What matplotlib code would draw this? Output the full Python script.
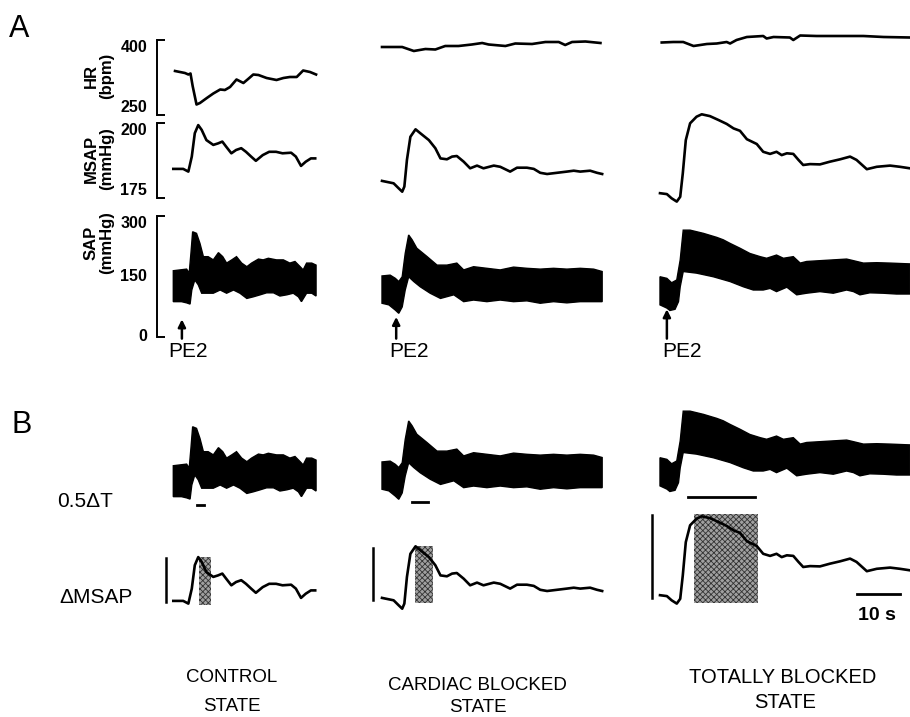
import numpy as np
import matplotlib
matplotlib.use("Agg")
import matplotlib.pyplot as plt
from matplotlib.patches import Rectangle

plt.rcParams['font.family'] = ['Liberation Sans', 'DejaVu Sans']
plt.rcParams['hatch.linewidth'] = 0.6

# ---------------- data (time in s) ----------------
# Heart rate (bpm)
HR1_t = [0.4, 2.7, 3.5, 4.0, 4.5, 5.4, 6.2, 7.8, 9.3, 10.9, 12.0, 13.2, 14.7, 16.3, 17.4, 18.6, 19.8, 21.7, 24.0, 25.6, 27.1, 28.7, 30.2, 31.8, 33.2]
HR1 = [337, 333, 330, 332, 307, 270, 273, 283, 292, 300, 299, 305, 320, 313, 321, 330, 329, 323, 319, 323, 325, 325, 338, 335, 330]
HR2_t = [0, 4.7, 7.4, 10.1, 12.4, 14.7, 17.8, 20.9, 23.3, 24.8, 28.7, 31.0, 34.9, 38.0, 41.1, 42.6, 44.2, 47.3, 50.8]
HR2 = [385, 385, 377, 381, 380, 387, 387, 390, 393, 390, 387, 392, 391, 395, 395, 389, 395, 396, 393]
HR3_t = [0.4, 3.1, 5.4, 7.8, 10.9, 13.2, 15.5, 16.3, 17.8, 20.2, 24.0, 24.8, 26.4, 30.2, 31.0, 32.6, 36.4, 41.1, 47.3, 52.0, 58.1]
HR3 = [394, 395, 395, 387, 391, 392, 395, 392, 399, 405, 407, 402, 405, 404, 399, 408, 407, 407, 407, 405, 404]

# Mean systemic arterial pressure (mmHg)
MSAP1_t = [0, 2.3, 3.5, 4.3, 5.0, 5.8, 6.6, 7.7, 9.3, 10.4, 11.4, 12.3, 13.5, 14.6, 15.8, 16.9, 18.1, 19.2, 20.8, 22.3, 23.9, 25.4, 27.4, 28.5, 29.7, 30.8, 32.0, 33.0]
MSAP1 = [184.7, 184.7, 183.8, 188.8, 196.6, 199.3, 197.7, 194.3, 192.7, 193.2, 193.8, 192.1, 189.9, 191.0, 191.6, 190.4, 188.8, 187.4, 189.3, 190.4, 190.4, 189.9, 190.1, 188.8, 185.7, 187.1, 188.2, 188.2]
MSAP2_t = [0, 2.7, 3.9, 4.7, 5.2, 5.8, 6.6, 7.8, 8.9, 10.9, 12.4, 13.6, 15.1, 16.3, 17.4, 19.0, 20.5, 22.1, 23.6, 26.0, 27.5, 29.8, 31.4, 33.7, 35.3, 36.8, 38.4, 40.7, 43.0, 44.6, 46.1, 48.4, 50.0, 51.2]
MSAP2 = [180.7, 179.9, 178.2, 177.1, 178.8, 187.7, 195.4, 197.9, 196.6, 194.3, 191.6, 188.2, 187.9, 188.8, 189.0, 187.1, 184.9, 185.8, 184.9, 185.8, 185.4, 183.8, 185.1, 185.1, 184.7, 183.4, 183.0, 183.4, 183.8, 184.1, 183.8, 184.1, 183.4, 183.0]
MSAP3_t = [0, 1.6, 2.7, 3.9, 4.7, 5.3, 6.0, 7.0, 8.5, 9.7, 11.6, 13.6, 15.5, 17.1, 18.6, 20.2, 22.5, 24.0, 25.6, 27.1, 28.3, 29.5, 31.0, 32.2, 33.3, 34.9, 37.2, 39.5, 41.9, 44.2, 45.7, 48.1, 50.4, 53.5, 55.8, 58.1]
MSAP3 = [176.6, 176.3, 174.9, 173.8, 175.4, 183.2, 194.3, 199.9, 202.1, 202.9, 202.3, 201.0, 199.7, 198.2, 197.4, 194.6, 193.0, 190.4, 189.7, 190.4, 189.3, 189.9, 189.7, 187.7, 186.0, 186.3, 186.2, 187.1, 187.9, 188.8, 187.7, 184.6, 185.4, 185.8, 185.4, 184.9]

# Systemic arterial pressure envelope (mmHg): systolic (upper) and diastolic (lower)
SAP1_up_t = [0, 3.1, 3.7, 4.1, 4.5, 5.4, 6.2, 7.0, 8.1, 9.3, 10.5, 11.5, 12.4, 13.6, 14.7, 15.9, 17.1, 18.2, 19.8, 20.9, 22.1, 24.0, 25.6, 27.1, 28.3, 29.5, 30.2, 31.0, 32.2, 33.2]
SAP1_up = [165, 169, 159, 208, 262, 258, 233, 200, 200, 192, 210, 200, 184, 192, 200, 184, 175, 184, 194, 192, 196, 192, 192, 184, 188, 175, 167, 184, 184, 179]
SAP1_lo_t = [0, 1.9, 3.1, 3.9, 4.3, 5.0, 5.8, 6.6, 7.8, 9.3, 10.9, 12.4, 14.0, 15.5, 17.1, 18.6, 20.2, 21.7, 23.3, 24.8, 26.4, 27.9, 29.1, 29.8, 31.0, 32.2, 33.2]
SAP1_lo = [88, 88, 85, 82, 117, 142, 130, 109, 109, 109, 117, 109, 117, 109, 96, 100, 105, 110, 110, 102, 105, 109, 100, 88, 109, 109, 102]
SAP2_up_t = [0, 1.9, 3.1, 3.9, 4.7, 5.4, 6.2, 7.0, 8.1, 10.5, 12.8, 15.1, 17.4, 19.0, 21.3, 24.4, 27.5, 30.6, 33.7, 36.8, 39.9, 43.0, 46.1, 49.2, 51.2]
SAP2_up = [152, 154, 146, 138, 150, 208, 254, 242, 221, 200, 179, 179, 184, 167, 175, 171, 167, 174, 171, 169, 171, 169, 171, 169, 163]
SAP2_lo_t = [0, 1.6, 3.1, 3.9, 4.7, 5.4, 6.2, 7.4, 8.9, 11.2, 13.6, 16.7, 19.0, 21.3, 24.4, 27.5, 30.6, 33.7, 36.8, 39.9, 43.0, 46.1, 49.2, 51.2]
SAP2_lo = [84, 80, 67, 59, 75, 117, 150, 138, 125, 109, 96, 105, 88, 92, 88, 92, 88, 90, 84, 88, 85, 88, 88, 88]
SAP3_up_t = [0, 1.6, 2.7, 3.9, 4.7, 5.4, 7.0, 10.1, 13.2, 14.7, 16.3, 18.6, 20.9, 23.3, 24.8, 27.1, 28.7, 31.0, 32.6, 34.1, 37.2, 40.3, 43.4, 45.0, 47.3, 50.4, 53.5, 58.1]
SAP3_up = [150, 146, 135, 142, 192, 266, 266, 258, 248, 242, 233, 221, 208, 200, 196, 204, 196, 200, 184, 188, 190, 192, 194, 190, 184, 185, 184, 182]
SAP3_lo_t = [0, 1.6, 2.3, 3.5, 4.3, 4.7, 5.4, 8.5, 12.4, 16.3, 19.4, 21.7, 24.0, 25.6, 27.1, 29.5, 31.8, 34.1, 37.2, 40.3, 43.4, 45.0, 46.5, 48.8, 51.9, 55.0, 58.1]
SAP3_lo = [80, 72, 66, 69, 88, 125, 163, 159, 150, 138, 125, 117, 117, 121, 113, 124, 105, 109, 113, 109, 117, 113, 105, 110, 109, 107, 107]

# Panel B annotations
HALF_DT = [(5.4, 7.1), (6.9, 10.8), (6.6, 22.1)]           # 0.5 delta T bars (s)
HALF_DT_LEVEL = [67, 52, 53]                                 # SAP level of the bars
SHADE_T = [(6.0, 8.7), (7.7, 11.8), (7.8, 22.9)]            # shaded windows (s)
SHADE_P = [(183.3, 199.4), (178.9, 198.1), (174.1, 203.6)]  # shaded windows (mmHg)
DMSAP_BAR = [(184.4, 199.0), (180.0, 197.2), (175.6, 203.3)]  # vertical scale bars
DMSAP_BAR_T = [-1.8, -2.2, -1.9]
PE2_T = [2.0, 3.3, 1.6]
PE2_HEAD = [44, 50, 69]
TIME_BAR = (45.8, 55.8)   # 10 s
TIME_BAR_LEVEL = 176.9

COL_LABELS = [["CONTROL", "STATE"], ["CARDIAC BLOCKED", "STATE"], ["TOTALLY BLOCKED", "STATE"]]

HR_T = [HR1_t, HR2_t, HR3_t]; HR = [HR1, HR2, HR3]
MS_T = [MSAP1_t, MSAP2_t, MSAP3_t]; MS = [MSAP1, MSAP2, MSAP3]
SU_T = [SAP1_up_t, SAP2_up_t, SAP3_up_t]; SU = [SAP1_up, SAP2_up, SAP3_up]
SL_T = [SAP1_lo_t, SAP2_lo_t, SAP3_lo_t]; SL = [SAP1_lo, SAP2_lo, SAP3_lo]

# ---------------- layout ----------------
W, H = 910, 717
PPS = 4.3                       # pixels per second
X0 = [173.3, 382.0, 660.0]      # pixel x of t=0 in each column
T_END = [33.4, 51.4, 58.2]
SAPB_SHIFT = [195, 186, 181]
MSB_SHIFT = [432, 417, 402]

fig = plt.figure(figsize=(W / 100, H / 100), dpi=100)
fig.patch.set_facecolor('white')


def pax(x0, tmin, tmax, ytop, ybot, ylim):
    ax = fig.add_axes([(x0 + tmin * PPS) / W, 1 - ybot / H,
                       (tmax - tmin) * PPS / W, (ybot - ytop) / H])
    ax.set_xlim(tmin, tmax)
    ax.set_ylim(*ylim)
    ax.patch.set_alpha(0)
    for s in ax.spines.values():
        s.set_visible(False)
    ax.set_xticks([])
    ax.set_yticks([])
    return ax


def bracket(ax, ticks, labels, vas):
    ax.spines['left'].set_visible(True)
    ax.spines['left'].set_linewidth(1.4)
    ax.spines['left'].set_bounds(ticks[0], ticks[-1])
    ax.set_yticks(ticks)
    ax.set_yticklabels(labels, fontsize=11.5, fontweight='bold')
    ax.tick_params(axis='y', direction='in', length=6, width=1.4, pad=7)
    for tk, va in zip(ax.yaxis.get_major_ticks(), vas):
        tk.label1.set_va(va)
    if len(ticks) == 3:
        ax.yaxis.get_major_ticks()[1].tick1line.set_visible(False)


LW = 1.9
for i in range(3):
    tmin = -3.8 if i == 0 else -1.0
    axh = pax(X0[i], tmin, T_END[i], 39.5, 114.5, (250, 400))
    axh.plot(HR_T[i], HR[i], color='black', lw=LW, clip_on=False, solid_joinstyle='round')
    axm = pax(X0[i], tmin, T_END[i], 123, 198, (175, 200))
    axm.plot(MS_T[i], MS[i], color='black', lw=LW, clip_on=False, solid_joinstyle='round')
    axs = pax(X0[i], tmin, T_END[i], 216.5, 337, (0, 300))
    poly_t = np.concatenate([SU_T[i], SL_T[i][::-1]])
    poly_v = np.concatenate([SU[i], SL[i][::-1]])
    axs.fill(poly_t, poly_v, facecolor='black', edgecolor='black', lw=1.0, clip_on=False)
    axs.annotate('', xy=(PE2_T[i], PE2_HEAD[i]), xytext=(PE2_T[i], -4),
                 arrowprops=dict(arrowstyle='-|>', lw=1.8, color='black',
                                 mutation_scale=11, shrinkA=0, shrinkB=0),
                 annotation_clip=False)
    if i == 0:
        bracket(axh, [250, 400], ['250', '400'], ['bottom', 'top'])
        bracket(axm, [175, 200], ['175', '200'], ['bottom', 'top'])
        bracket(axs, [0, 150, 300], ['0', '150', '300'], ['center', 'center', 'top'])

    # panel B
    axsb = pax(X0[i], -4, T_END[i], 216.5 + SAPB_SHIFT[i], 337 + SAPB_SHIFT[i], (0, 300))
    axsb.fill(poly_t, poly_v, facecolor='black', edgecolor='black', lw=1.0, clip_on=False)
    axsb.plot(HALF_DT[i], [HALF_DT_LEVEL[i]] * 2, color='black', lw=2.0, clip_on=False)

    axmb = pax(X0[i], -4, T_END[i], 123 + MSB_SHIFT[i], 198 + MSB_SHIFT[i], (175, 200))
    t0, t1 = SHADE_T[i]
    p0, p1 = SHADE_P[i]
    axmb.add_patch(Rectangle((t0, p0), t1 - t0, p1 - p0, facecolor='#a0a0a0',
                             edgecolor='#333333', hatch='xxxxxx', lw=0, zorder=1,
                             clip_on=False))
    axmb.plot(MS_T[i], MS[i], color='black', lw=LW, clip_on=False, zorder=3,
              solid_joinstyle='round')
    axmb.plot([DMSAP_BAR_T[i]] * 2, DMSAP_BAR[i], color='black', lw=1.8, clip_on=False)
    if i == 2:
        axmb.plot(TIME_BAR, [TIME_BAR_LEVEL] * 2, color='black', lw=2.0, clip_on=False)


def ftext(x, y, s, **kw):
    fig.text(x / W, 1 - y / H, s, **kw)


ftext(9, 37, 'A', fontsize=22)
ftext(11, 433, 'B', fontsize=22)
ftext(99, 76, 'HR\n(bpm)', rotation=90, fontsize=12, fontweight='bold',
      ha='center', va='center', multialignment='center', linespacing=1.0)
ftext(99, 159, 'MSAP\n(mmHg)', rotation=90, fontsize=12, fontweight='bold',
      ha='center', va='center', multialignment='center', linespacing=1.0)
ftext(99, 243, 'SAP\n(mmHg)', rotation=90, fontsize=12, fontweight='bold',
      ha='center', va='center', multialignment='center', linespacing=1.0)

for x in [168, 389, 662]:
    ftext(x, 357, 'PE2', fontsize=15, va='baseline')

ftext(57, 507, '0.5\u0394T', fontsize=15, va='baseline')
ftext(59, 603, '\u0394MSAP', fontsize=15, va='baseline')
ftext(877, 620, '10 s', fontsize=14, fontweight='bold', ha='center', va='baseline')

label_pos = [[(231.5, 682), (231.5, 711)],
             [(477.5, 690), (478, 712)],
             [(783, 683), (785, 708)]]
sizes = [13.5, 13.5, 14.5]
for i in range(3):
    for line, (x, y) in zip(COL_LABELS[i], label_pos[i]):
        ftext(x, y, line, fontsize=sizes[i], ha='center', va='baseline')

fig.savefig('out.png', dpi=100, facecolor='white')
